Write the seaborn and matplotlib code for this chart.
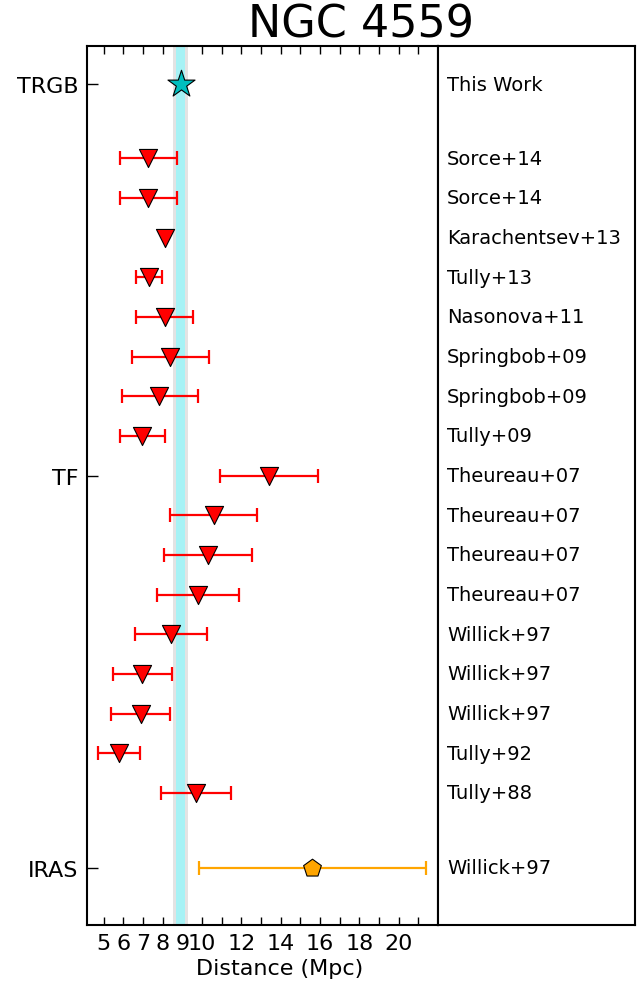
import numpy as np
import matplotlib
matplotlib.use("Agg")
import matplotlib.pyplot as plt
import seaborn as sns

# TRGB (this work)
trgb_ref = "This Work"
trgb_dist = 8.92
trgb_stat = 0.24
trgb_sys = 0.39

# Tully-Fisher distances (Mpc): value, lower and upper end of the error bar
tf_refs = ["Sorce+14", "Sorce+14", "Karachentsev+13", "Tully+13", "Nasonova+11",
           "Springbob+09", "Springbob+09", "Tully+09", "Theureau+07", "Theureau+07",
           "Theureau+07", "Theureau+07", "Willick+97", "Willick+97", "Willick+97",
           "Tully+92", "Tully+88"]
tf_dist = [7.28, 7.28, 8.10, 7.32, 8.10, 8.39, 7.84, 6.98, 13.41, 10.60,
           10.30, 9.79, 8.42, 6.96, 6.88, 5.80, 9.69]
tf_lo = [5.85, 5.85, 8.10, 6.64, 6.64, 6.47, 5.93, 5.85, 10.92, 8.40,
         8.05, 7.71, 6.61, 5.46, 5.38, 4.70, 7.91]
tf_hi = [8.74, 8.74, 8.10, 7.96, 9.55, 10.35, 9.79, 8.10, 15.88, 12.80,
         12.55, 11.89, 10.28, 8.47, 8.39, 6.86, 11.50]

# IRAS
iras_ref = "Willick+97"
iras_dist = 15.61
iras_lo = 9.84
iras_hi = 21.37

method_labels = ["TRGB", "TF", "IRAS"]
xtick_vals = list(range(5, 22))
xtick_labels = ["5", "6", "7", "8", "9", "10", "", "12", "", "14", "", "16", "", "18", "", "20", ""]

sns.set_style("white")
plt.rcParams['font.family'] = ['DejaVu Sans']
plt.rcParams['text.color'] = 'black'
plt.rcParams['axes.labelcolor'] = 'black'
plt.rcParams['xtick.color'] = 'black'
plt.rcParams['ytick.color'] = 'black'

# row positions
gap = 1.87
y_trgb = 0.0
y_tf = np.array([gap + i for i in range(len(tf_refs))])
y_iras = y_tf[-1] + 1.89

fig = plt.figure(figsize=(6.41, 9.95), dpi=100)
ax = fig.add_axes([0.1357, 0.0693, 0.5476, 0.8835])
axr = fig.add_axes([0.6833, 0.0693, 0.3073, 0.8835])

# TRGB band
ax.axvspan(trgb_dist - trgb_sys, trgb_dist + trgb_sys, color="#e3e3e3", lw=0, zorder=0)
ax.axvspan(trgb_dist - trgb_stat, trgb_dist + trgb_stat, color="#a6f2f5", lw=0, zorder=1)

# TF error bars
d = np.array(tf_dist)
lo = d - np.array(tf_lo)
hi = np.array(tf_hi) - d
has_err = (lo > 0) | (hi > 0)
ax.errorbar(d[has_err], y_tf[has_err], xerr=[lo[has_err], hi[has_err]], fmt="none",
            ecolor="red", elinewidth=1.6, capsize=5, capthick=1.6, zorder=2)
sns.scatterplot(x=d, y=y_tf, marker="v", s=170, color="red", edgecolor="black",
                linewidth=0.8, ax=ax, zorder=3)

# IRAS
ax.errorbar([iras_dist], [y_iras], xerr=[[iras_dist - iras_lo], [iras_hi - iras_dist]], fmt="none",
            ecolor="orange", elinewidth=1.6, capsize=5, capthick=1.6, zorder=2)
sns.scatterplot(x=[iras_dist], y=[y_iras], marker="p", s=180, color="orange", edgecolor="black",
                linewidth=0.8, ax=ax, zorder=3)

# TRGB star
sns.scatterplot(x=[trgb_dist], y=[y_trgb], marker="*", s=420, color="c", edgecolor="black",
                linewidth=0.8, ax=ax, zorder=4)

ax.set_xlim(4.16, 22.0)
ax.set_ylim(y_iras + 1.44, y_trgb - 0.96)
ax.set_xticks(xtick_vals)
ax.set_xticklabels(xtick_labels, fontsize=16)
ax.set_yticks([y_trgb, y_tf[len(y_tf) // 2], y_iras])
ax.set_yticklabels(method_labels, fontsize=16)
ax.tick_params(axis="x", direction="in", top=True, bottom=True, length=6, width=1, pad=6)
ax.tick_params(axis="y", direction="in", left=True, right=False, length=8, width=1, pad=6)
ax.set_xlabel("Distance (Mpc)", fontsize=16)
ax.xaxis.set_label_coords(0.55, -0.038)
for s in ax.spines.values():
    s.set_linewidth(1.5)
    s.set_color("black")

# reference labels
axr.set_xlim(0, 1)
axr.set_ylim(ax.get_ylim())
axr.set_xticks([])
axr.set_yticks([])
for s in axr.spines.values():
    s.set_linewidth(1.5)
    s.set_color("black")
axr.text(0.046, y_trgb, trgb_ref, fontsize=14, va="center", ha="left")
for yy, ref in zip(y_tf, tf_refs):
    axr.text(0.046, yy, ref, fontsize=14, va="center", ha="left")
axr.text(0.046, y_iras, iras_ref, fontsize=14, va="center", ha="left")

fig.text(0.5635, 0.975, "NGC 4559", fontsize=32, ha="center", va="center")

fig.savefig("out.png", dpi=100)
